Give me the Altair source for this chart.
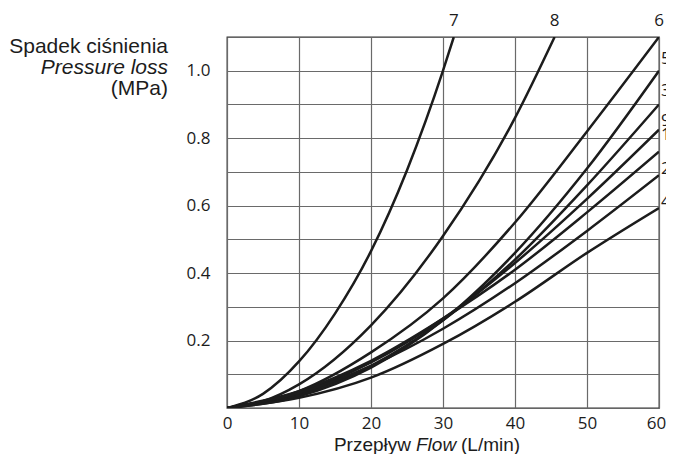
import altair as alt
import pandas as pd

# ---- data ----
flow_std = [0, 10, 20, 30, 40, 50, 60]
loss_6 = [0, 0.05, 0.165, 0.325, 0.55, 0.82, 1.10]
loss_5 = [0, 0.035, 0.12, 0.26, 0.46, 0.71, 1.00]
loss_3 = [0, 0.04, 0.125, 0.26, 0.44, 0.66, 0.90]
loss_9 = [0, 0.045, 0.135, 0.265, 0.43, 0.62, 0.825]
loss_1 = [0, 0.05, 0.14, 0.265, 0.41, 0.58, 0.76]
loss_2 = [0, 0.045, 0.125, 0.235, 0.37, 0.525, 0.69]
loss_4 = [0, 0.03, 0.09, 0.19, 0.315, 0.46, 0.593]

flow_7 = [0, 5, 10, 15, 20, 25, 30, 31.5]
loss_7 = [0, 0.042, 0.138, 0.28, 0.465, 0.705, 1.00, 1.10]

flow_8 = [0, 5, 10, 20, 30, 40, 45.5]
loss_8 = [0, 0.02, 0.07, 0.245, 0.51, 0.86, 1.10]

curves = {
    "7": (flow_7, loss_7),
    "8": (flow_8, loss_8),
    "6": (flow_std, loss_6),
    "5": (flow_std, loss_5),
    "3": (flow_std, loss_3),
    "9": (flow_std, loss_9),
    "1": (flow_std, loss_1),
    "2": (flow_std, loss_2),
    "4": (flow_std, loss_4),
}

top_labels = ["7", "8", "6"]
right_labels = ["5", "3", "9", "1", "2", "4"]
right_label_y = [1.035, 0.94, 0.85, 0.81, 0.71, 0.61]

x_ticks = [0, 10, 20, 30, 40, 50, 60]
y_ticks = [0.1, 0.2, 0.3, 0.4, 0.5, 0.6, 0.7, 0.8, 0.9, 1.0]

rows = []
for name, (xs, ys) in curves.items():
    for xv, yv in zip(xs, ys):
        rows.append({"curve": name, "flow": xv, "loss": yv})
df = pd.DataFrame(rows)

top_df = pd.DataFrame({
    "label": top_labels,
    "flow": [curves[k][0][-1] for k in top_labels],
    "loss": [curves[k][1][-1] for k in top_labels],
})
right_df = pd.DataFrame({
    "label": right_labels,
    "flow": [curves[k][0][-1] for k in right_labels],
    "loss": right_label_y,
})

TICK_FONT = "Open Sans"
TITLE_FONT = "Liberation Sans"
INK = "#1c1c1c"

xscale = alt.Scale(domain=[0, 60], nice=False, zero=True)
yscale = alt.Scale(domain=[0, 1.1], nice=False, zero=True)

lines = alt.Chart(df).mark_line(
    color=INK, strokeWidth=2.5, interpolate="monotone", clip=True
).encode(
    x=alt.X("flow:Q", scale=xscale,
            axis=alt.Axis(values=x_ticks, title=None, grid=True, ticks=False,
                          domain=False, labelFontSize=17, labelFont=TICK_FONT,
                          labelColor=INK, labelPadding=7, labelFlush=False,
                          labelOffset={"condition": {"test": "datum.value == 60", "value": -3},
                                       "value": 0})),
    y=alt.Y("loss:Q", scale=yscale,
            axis=alt.Axis(values=y_ticks, title=None, grid=True, ticks=False,
                          domain=False, labelFontSize=17, labelFont=TICK_FONT,
                          labelColor=INK, labelPadding=17,
                          labelExpr="round(datum.value*10) % 2 == 0 ? format(datum.value, '.1f') : ''")),
    detail="curve:N",
)

top_text = alt.Chart(top_df).mark_text(
    font=TICK_FONT, fontSize=17, color=INK, dy=-16, baseline="middle", align="center"
).encode(x=alt.X("flow:Q", scale=xscale), y=alt.Y("loss:Q", scale=yscale), text="label:N")

right_text = alt.Chart(right_df).mark_text(
    font=TICK_FONT, fontSize=17, color=INK, dx=2, baseline="middle", align="left"
).encode(x=alt.X("flow:Q", scale=xscale), y=alt.Y("loss:Q", scale=yscale), text="label:N")

one = pd.DataFrame({"t": [""]})

def title_piece(txt, x, y, align, size, italic=False):
    kw = dict(font=TITLE_FONT, fontSize=size, color=INK, align=align, baseline="alphabetic")
    if italic:
        kw["fontStyle"] = "italic"
    return alt.Chart(one).mark_text(**kw).encode(
        x=alt.value(x), y=alt.value(y), text=alt.value(txt))

y_title = [
    title_piece("Spadek ciśnienia", -59, 16, "right", 21),
    title_piece("Pressure loss", -59, 37, "right", 21, italic=True),
    title_piece("(MPa)", -59, 58, "right", 21),
]
x_title = [
    title_piece("Przepływ", 184, 414, "right", 19),
    title_piece("Flow", 189, 414, "left", 19, italic=True),
    title_piece("(L/min)", 234, 414, "left", 19),
]

chart = alt.layer(lines, top_text, right_text, *y_title, *x_title).properties(
    width=432, height=371,
    autosize=alt.AutoSizeParams(type="none"),
    padding={"left": 219, "top": 29, "right": 7, "bottom": 46},
).configure_view(
    stroke="#333333", strokeWidth=1.3
).configure_axis(
    gridColor="#6a6a6a", gridWidth=1.2, gridOpacity=1
)

chart.save("out.html", embed_options={"renderer": "svg", "actions": False})
